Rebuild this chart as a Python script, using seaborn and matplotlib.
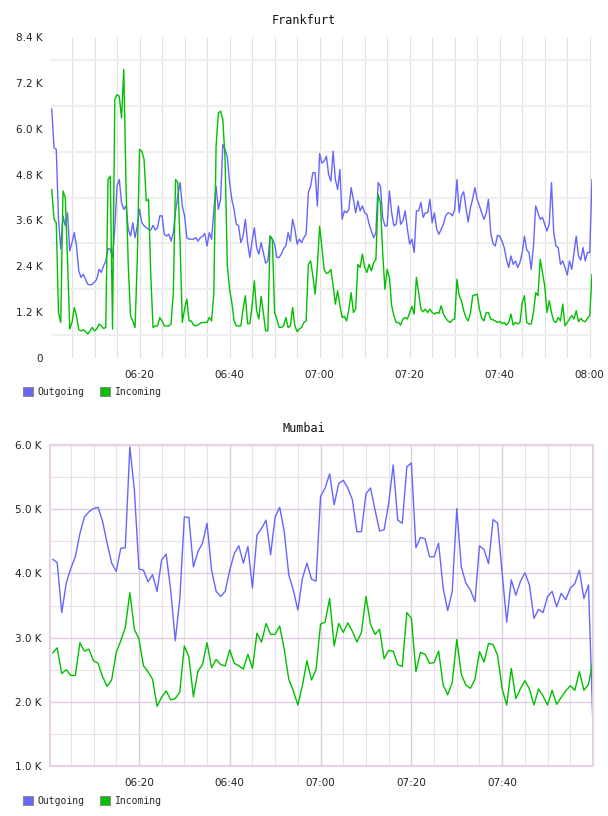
import numpy as np
import pandas as pd
import matplotlib
matplotlib.use("Agg")
import matplotlib.pyplot as plt
import matplotlib.dates as mdates
from matplotlib.patches import Patch
from matplotlib.ticker import FixedLocator, FuncFormatter
import seaborn as sns

# ---------------- data (values in thousands) ----------------
SERIES = ["Outgoing", "Incoming"]
COLORS = {"Outgoing": "#6666ff", "Incoming": "#00c000"}

frankfurt_start = "2024-01-01 06:00:30"   # 30-second samples
frankfurt_out = [
    6.52, 5.50, 5.46, 3.63, 2.85, 3.72, 3.46, 3.80, 2.80, 3.02,
    3.28, 2.93, 2.28, 2.11, 2.19, 2.06, 1.93, 1.91, 1.93, 1.99,
    2.06, 2.32, 2.24, 2.41, 2.54, 2.86, 2.85, 2.63, 3.37, 4.50,
    4.67, 4.06, 3.89, 3.98, 3.37, 3.19, 3.54, 3.15, 3.46, 3.89,
    3.54, 3.46, 3.41, 3.37, 3.35, 3.47, 3.35, 3.41, 3.72, 3.72,
    3.24, 3.19, 3.24, 3.06, 3.28, 3.85, 4.24, 4.59, 3.98,
    3.72, 3.15, 3.11, 3.11, 3.11, 3.15, 3.06, 3.15, 3.18, 3.26,
    2.93, 3.28, 3.11, 3.85, 4.50, 3.89, 4.15, 5.59, 5.46, 5.25,
    4.59, 4.15, 3.89, 3.50, 3.46, 3.02, 3.19, 3.63, 3.02, 2.63,
    3.06, 3.41, 2.89, 2.72, 3.02, 2.76, 2.48, 2.54, 3.19, 3.11,
    2.98, 2.63, 2.63, 2.72, 2.86, 2.93, 3.28, 3.06, 3.63, 3.37,
    2.98, 3.11, 3.02, 3.15, 3.24, 4.33, 4.50, 4.85, 4.85, 3.98,
    5.35, 5.10, 5.15, 5.28, 4.80, 4.63, 5.41, 4.67, 4.41, 4.93,
    3.63, 3.85, 3.80, 3.89, 4.46, 4.15, 3.80, 4.11, 3.85, 3.98,
    3.80, 3.76, 3.50, 3.32, 3.15, 3.28, 4.59, 4.50, 3.68, 3.46,
    3.46, 4.37, 3.80, 3.46, 3.50, 3.98, 3.50, 3.59, 3.85, 3.37,
    2.98, 3.11, 2.76, 3.85, 3.85, 4.07, 3.68, 3.80, 3.80, 4.15,
    3.54, 3.80, 3.37, 3.24, 3.37, 3.50, 3.72, 3.80, 3.78, 3.72,
    3.89, 4.67, 3.80, 4.24, 4.35, 3.93, 3.56, 3.93, 4.17, 4.46,
    4.15, 3.98, 3.80, 3.63, 3.79, 4.15, 3.28, 3.00, 2.93, 3.21,
    3.19, 3.06, 2.89, 2.58, 2.37, 2.67, 2.45, 2.54, 2.37, 2.50,
    2.76, 3.19, 2.83, 2.76, 2.32, 2.93, 3.98, 3.80, 3.63, 3.68,
    3.50, 3.32, 3.50, 4.59, 3.28, 2.93, 2.89, 2.45, 2.54, 2.37,
    2.17, 2.54, 2.32, 2.76, 3.19, 2.67, 2.56, 2.89, 2.54, 2.76,
    2.76, 4.67,
]
frankfurt_in = [
    4.41, 3.63, 3.54, 1.19, 0.93, 4.37, 4.20, 2.58, 0.76, 0.93,
    1.32, 1.10, 0.74, 0.71, 0.74, 0.69, 0.63, 0.71, 0.80, 0.71,
    0.76, 0.89, 0.84, 0.77, 0.80, 4.67, 4.76, 0.76, 6.76, 6.89,
    6.85, 6.28, 7.55, 4.50, 2.41, 1.10, 0.97, 0.80, 2.58, 5.46,
    5.41, 5.20, 4.11, 4.15, 2.15, 0.80, 0.84, 0.84, 1.06, 0.97,
    0.84, 0.84, 0.84, 0.89, 1.71, 4.67, 4.59, 3.02, 0.93,
    1.28, 1.54, 0.97, 0.97, 0.86, 0.84, 0.87, 0.91, 0.93, 0.93,
    0.93, 1.06, 0.97, 1.71, 5.54, 6.41, 6.46, 6.24, 5.20, 2.41,
    1.80, 1.45, 0.97, 0.84, 0.84, 0.84, 1.28, 1.63, 0.90, 0.90,
    1.37, 2.02, 1.24, 1.02, 1.61, 1.19, 0.71, 0.71, 3.19, 3.11,
    1.19, 1.02, 0.80, 0.80, 0.84, 1.06, 0.80, 0.84, 1.32, 0.84,
    0.69, 0.76, 0.80, 0.93, 0.97, 2.45, 2.54, 2.15, 1.67, 2.41,
    3.45, 2.90, 2.32, 2.21, 2.24, 2.32, 1.89, 1.41, 1.76, 1.37,
    1.06, 1.09, 0.97, 1.28, 1.71, 1.19, 1.28, 2.45, 2.37, 2.72,
    2.37, 2.24, 2.45, 2.28, 2.50, 2.58, 4.28, 4.07, 2.76, 1.80,
    2.32, 2.11, 1.37, 1.11, 0.93, 0.93, 0.86, 1.02, 1.06, 1.02,
    1.19, 1.35, 1.15, 2.11, 1.71, 1.28, 1.21, 1.28, 1.19, 1.28,
    1.19, 1.15, 1.19, 1.17, 1.37, 1.15, 1.04, 0.97, 0.93, 1.00,
    1.02, 2.06, 1.63, 1.50, 1.24, 1.06, 0.97, 1.17, 1.63, 1.65,
    1.67, 1.28, 1.04, 0.97, 1.19, 1.19, 1.02, 1.00, 0.97, 0.93,
    0.96, 0.90, 0.93, 0.86, 0.93, 1.15, 0.86, 0.93, 0.89, 0.93,
    1.45, 1.63, 0.93, 0.89, 0.89, 1.19, 1.71, 1.63, 2.58, 2.24,
    1.89, 1.19, 1.50, 1.19, 0.97, 0.93, 1.06, 0.97, 1.41, 0.84,
    0.93, 1.02, 1.11, 1.02, 1.24, 0.95, 1.04, 0.97, 0.95, 1.04,
    1.11, 2.19,
]

mumbai_start = "2024-01-01 06:01:00"   # 1-minute samples
mumbai_out = [
    4.22, 4.17, 3.39, 3.85, 4.08, 4.26, 4.62, 4.88, 4.96, 5.01,
    5.03, 4.81, 4.47, 4.16, 4.03, 4.39, 4.40, 5.97, 5.30, 4.07,
    4.05, 3.87, 3.98, 3.72, 4.21, 4.30, 3.74, 2.95, 3.60, 4.88,
    4.87, 4.10, 4.34, 4.47, 4.78, 4.05, 3.72, 3.64, 3.72, 4.05,
    4.31, 4.43, 4.16, 4.42, 3.77, 4.60, 4.70, 4.83, 4.29, 4.88,
    5.03, 4.65, 3.98, 3.74, 3.43, 3.92, 4.16, 3.91, 3.88, 5.20,
    5.33, 5.55, 5.07, 5.40, 5.45, 5.33, 5.15, 4.65, 4.65, 5.24,
    5.33, 4.99, 4.66, 4.68, 5.09, 5.69, 4.83, 4.78, 5.66, 5.72,
    4.40, 4.56, 4.54, 4.26, 4.26, 4.47, 3.77, 3.42, 3.72, 5.01,
    4.10, 3.85, 3.74, 3.56, 4.43, 4.37, 4.15, 4.84, 4.78, 4.00,
    3.24, 3.90, 3.66, 3.87, 4.01, 3.82, 3.30, 3.44, 3.39, 3.64,
    3.72, 3.48, 3.69, 3.59, 3.77, 3.84, 4.05, 3.61, 3.82, 1.61,
]
mumbai_in = [
    2.76, 2.84, 2.44, 2.50, 2.41, 2.41, 2.92, 2.79, 2.82, 2.64,
    2.60, 2.39, 2.24, 2.34, 2.77, 2.95, 3.16, 3.70, 3.13, 2.98,
    2.56, 2.47, 2.35, 1.93, 2.07, 2.17, 2.03, 2.05, 2.15, 2.87,
    2.70, 2.08, 2.48, 2.58, 2.92, 2.53, 2.66, 2.58, 2.56, 2.81,
    2.60, 2.56, 2.51, 2.74, 2.52, 3.07, 2.93, 3.22, 3.05, 3.05,
    3.18, 2.82, 2.35, 2.17, 1.95, 2.25, 2.64, 2.34, 2.50, 3.21,
    3.24, 3.61, 2.87, 3.22, 3.08, 3.23, 3.10, 2.93, 3.08, 3.64,
    3.21, 3.05, 3.13, 2.67, 2.80, 2.79, 2.58, 2.55, 3.39, 3.30,
    2.47, 2.77, 2.74, 2.60, 2.61, 2.79, 2.26, 2.11, 2.30, 2.97,
    2.43, 2.26, 2.21, 2.35, 2.78, 2.62, 2.91, 2.89, 2.72, 2.20,
    1.95, 2.52, 2.05, 2.20, 2.33, 2.20, 1.95, 2.20, 2.09, 1.95,
    2.18, 1.96, 2.07, 2.17, 2.25, 2.18, 2.47, 2.18, 2.27, 2.64,
]

frankfurt_yticks = [0, 1.2, 2.4, 3.6, 4.8, 6.0, 7.2, 8.4]
mumbai_yticks = [1.0, 2.0, 3.0, 4.0, 5.0, 6.0]


def long_frame(start, freq, out, inc):
    t = pd.date_range(start, periods=len(out), freq=freq)
    return pd.DataFrame({
        "time": list(t) * 2,
        "value": list(out) + list(inc),
        "series": ["Outgoing"] * len(out) + ["Incoming"] * len(inc),
    })


df_fra = long_frame(frankfurt_start, "30s", frankfurt_out, frankfurt_in)
df_mum = long_frame(mumbai_start, "1min", mumbai_out, mumbai_in)

# ---------------- style ----------------
sns.set_theme(style="white")
plt.rcParams["font.family"] = ["DejaVu Sans"]

W, H = 608, 816
fig = plt.figure(figsize=(W / 100, H / 100), dpi=100)
ax1 = fig.add_axes([51 / W, 1 - 358 / H, 541 / W, 321 / H])
ax2 = fig.add_axes([50 / W, 1 - 766 / H, 543 / W, 321 / H])

for ax, df in ((ax1, df_fra), (ax2, df_mum)):
    sns.lineplot(data=df, x="time", y="value", hue="series",
                 hue_order=SERIES, palette=COLORS, linewidth=1.0,
                 legend=False, ax=ax, estimator=None)
    ax.set_xlabel("")
    ax.set_ylabel("")
    ax.set_axisbelow(True)
    ax.tick_params(axis="both", which="both", length=0,
                   labelsize=7.5, labelcolor="#222222")
    ax.tick_params(axis="y", pad=6)
    ax.tick_params(axis="x", pad=9)
    ax.xaxis.set_major_formatter(mdates.DateFormatter("%H:%M"))
    ax.xaxis.set_minor_locator(mdates.MinuteLocator(byminute=range(0, 60, 5)))

kfmt = FuncFormatter(lambda v, p: "0" if abs(v) < 1e-9 else f"{v:.1f} K")

# --- Frankfurt
ax1.set_xlim(pd.Timestamp("2024-01-01 06:00:20"), pd.Timestamp("2024-01-01 08:00:30"))
ax1.set_ylim(0, 8.4)
ax1.xaxis.set_major_locator(mdates.MinuteLocator(byminute=[0, 20, 40]))
ax1.yaxis.set_major_locator(FixedLocator(frankfurt_yticks))
ax1.yaxis.set_minor_locator(FixedLocator([v + 0.6 for v in frankfurt_yticks[:-1]]))
ax1.yaxis.set_major_formatter(kfmt)
ax1.grid(True, which="both", axis="x", color="#e2e2e2", linewidth=0.8)
ax1.grid(True, which="minor", axis="y", color="#efefef", linewidth=1.6)
ax1.grid(False, which="major", axis="y")
for s in ax1.spines.values():
    s.set_visible(False)

# --- Mumbai
ax2.set_xlim(pd.Timestamp("2024-01-01 06:00:25"), pd.Timestamp("2024-01-01 08:00:00"))
ax2.set_ylim(1.0, 6.0)
ax2.xaxis.set_major_locator(FixedLocator(mdates.date2num(
    pd.to_datetime(["2024-01-01 06:20", "2024-01-01 06:40", "2024-01-01 07:00",
                    "2024-01-01 07:20", "2024-01-01 07:40"]))))
ax2.yaxis.set_major_locator(FixedLocator(mumbai_yticks))
ax2.yaxis.set_minor_locator(FixedLocator([v + 0.5 for v in mumbai_yticks[:-1]]))
ax2.yaxis.set_major_formatter(kfmt)
ax2.grid(True, which="major", axis="both", color="#e0cce0", linewidth=1.0)
ax2.grid(True, which="minor", axis="both", color="#e6e2e6", linewidth=0.8)
for s in ax2.spines.values():
    s.set_visible(True)
    s.set_color("#e6d4e6")
    s.set_linewidth(1.5)

# ---------------- titles & legends ----------------
mono = "DejaVu Sans Mono"
fig.text(0.5, 1 - 20 / H, "Frankfurt", ha="center", va="center",
         family=mono, fontsize=8.5, color="#111111")
fig.text(0.5, 1 - 428 / H, "Mumbai", ha="center", va="center",
         family=mono, fontsize=8.5, color="#111111")

handles = [Patch(facecolor=COLORS[s], edgecolor="#8a8a8a", linewidth=0.8, label=s)
           for s in SERIES]
for ypix in (392, 801):
    fig.legend(handles=handles, loc="center left",
               bbox_to_anchor=(23 / W, 1 - ypix / H), ncol=2, frameon=False,
               prop={"family": mono, "size": 7}, handlelength=1.0,
               handleheight=1.0, handletextpad=0.5, columnspacing=1.6,
               borderpad=0, borderaxespad=0)

fig.savefig("out.png", dpi=100)
